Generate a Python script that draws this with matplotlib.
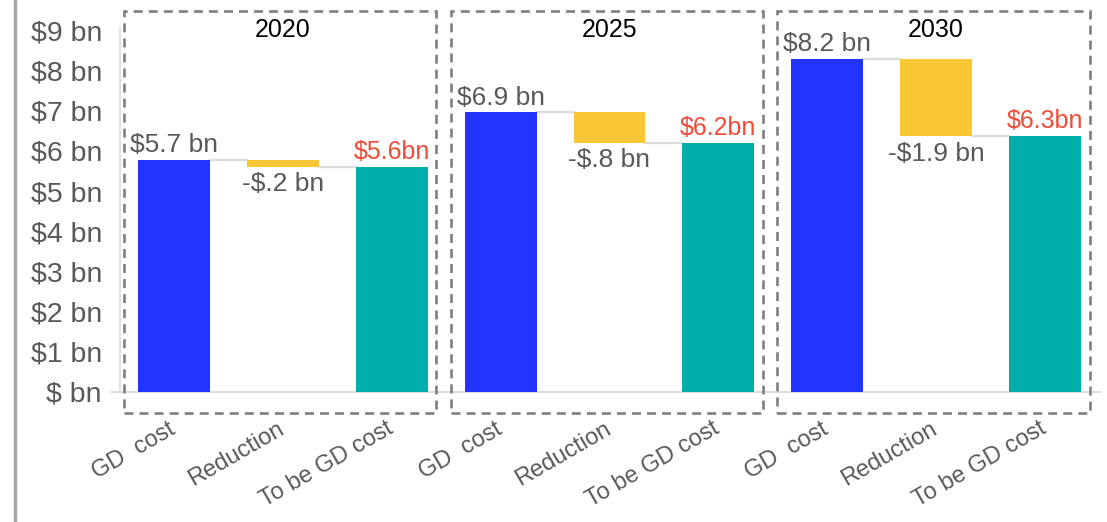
#!/usr/bin/env python3
# -*- coding: utf-8 -*-
# waterfall GD cost -> reduction -> to be GD cost, one panel per year

import numpy as np
import matplotlib.pyplot as plt
import matplotlib.transforms as mtransforms
from matplotlib.patches import Rectangle
from matplotlib.lines import Line2D

# donnees
years = ['2020', '2025', '2030']
steps = ['GD  cost', 'Reduction', 'To be GD cost']
gd_cost = [5.77, 6.96, 8.29]
reduction = [-0.17, -0.76, -1.92]
to_be_cost = [5.60, 6.20, 6.37]
gd_labels = ['$5.7 bn', '$6.9 bn', '$8.2 bn']
red_labels = ['-$.2 bn', '-$.8 bn', '-$1.9 bn']
tobe_labels = ['$5.6bn', '$6.2bn', '$6.3bn']
ytick_labels = ['$ bn', '$1 bn', '$2 bn', '$3 bn', '$4 bn',
                '$5 bn', '$6 bn', '$7 bn', '$8 bn', '$9 bn']

# couleurs
blue = '#2134fd'
yellow = '#f9c734'
teal = '#00afaa'
red = '#f04b37'
grey = '#595959'
light = '#dcdcdc'

plt.rcParams['font.family'] = ['Liberation Sans', 'DejaVu Sans']
plt.rcParams['text.parse_math'] = False

if __name__ == "__main__":

    W, H = 1107, 522
    fig = plt.figure(figsize=(W / 100, H / 100), dpi=100)
    ax = fig.add_axes([119.5 / W, 130.5 / H, 980 / W, 363.5 / H])

    bw = 0.66
    for k in range(len(years)):
        x0 = 3 * k
        low = gd_cost[k] + reduction[k]
        ax.bar(x0, gd_cost[k], width=bw, color=blue, zorder=2)
        ax.bar(x0 + 1, -reduction[k], bottom=low, width=bw, color=yellow, zorder=2)
        ax.bar(x0 + 2, to_be_cost[k], width=bw, color=teal, zorder=2)

        # lignes de liaison
        ax.plot([x0 + bw / 2, x0 + 1 - bw / 2], [gd_cost[k]] * 2,
                color=light, lw=1.6, zorder=1)
        ax.plot([x0 + 1 + bw / 2, x0 + 2 - bw / 2], [low] * 2,
                color=light, lw=1.6, zorder=1)

        # etiquettes
        ax.annotate(gd_labels[k], (x0, gd_cost[k]), xytext=(0, 2),
                    textcoords='offset points', ha='center', va='bottom',
                    fontsize=19, color=grey)
        ax.annotate(red_labels[k], (x0 + 1, low), xytext=(0, -4),
                    textcoords='offset points', ha='center', va='top',
                    fontsize=19, color=grey)
        ax.annotate(tobe_labels[k], (x0 + 2, to_be_cost[k]), xytext=(0, 2),
                    textcoords='offset points', ha='center', va='bottom',
                    fontsize=18, color=red)

        ax.text(x0 + 1, 9.01, years[k], ha='center', va='center',
                fontsize=18, color='black')

        # cadre pointille
        box = Rectangle((x0 - 0.46, -0.53), 2.87, 10.03, fill=False,
                        edgecolor='#7f7f7f', lw=1.9, linestyle=(0, (3.4, 2.3)),
                        clip_on=False, zorder=3)
        ax.add_patch(box)

    # ligne de base prolongee a gauche
    ax.plot([-0.57, 8.5], [0, 0], color=light, lw=1.5, clip_on=False, zorder=1)

    # axes
    ax.set_xlim(-0.5, 8.5)
    ax.set_ylim(0, 9.065)
    ax.set_yticks(np.arange(10))
    ax.set_yticklabels(ytick_labels)
    ax.set_xticks(np.arange(9))
    ax.set_xticklabels(steps * 3, rotation=30, ha='right')
    ax.tick_params(axis='y', length=0, pad=12.6, labelsize=20.5, labelcolor=grey)
    ax.tick_params(axis='x', length=0, pad=19, labelsize=17, labelcolor=grey)
    shift = mtransforms.ScaledTranslation(5 / 100, 0, fig.dpi_scale_trans)
    for lbl in ax.get_xticklabels():
        lbl.set_transform(lbl.get_transform() + shift)

    for s in ['top', 'right']:
        ax.spines[s].set_visible(False)
    ax.spines['left'].set_color(light)
    ax.spines['left'].set_linewidth(1.2)
    ax.spines['bottom'].set_visible(False)

    # trait gris a gauche
    fig.add_artist(Line2D([15 / W, 15 / W], [0, 1], transform=fig.transFigure,
                          color='#a6a6a6', lw=2.5))

    fig.savefig('out.png', dpi=100)
